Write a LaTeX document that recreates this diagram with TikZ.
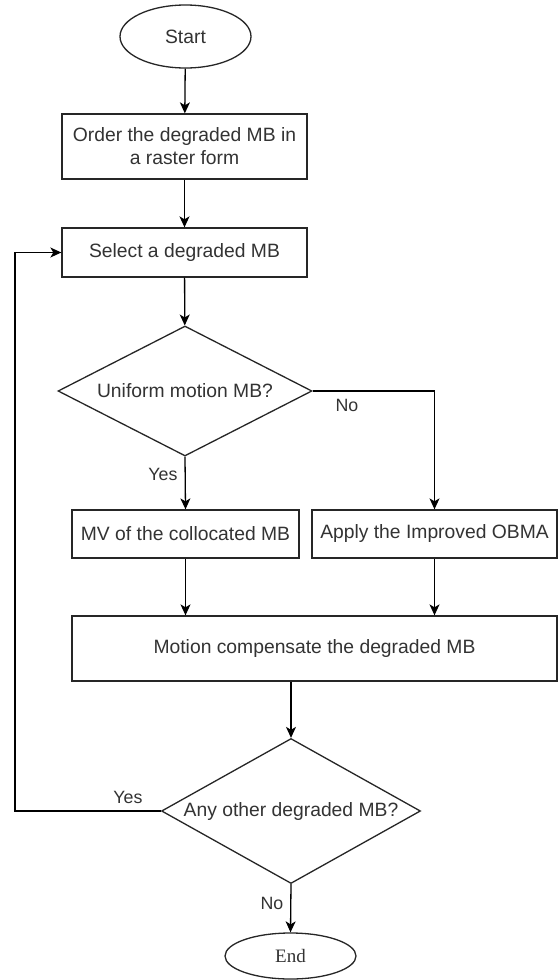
\documentclass[tikz,border=0pt]{standalone}
\usepackage{fontspec}
\setmainfont{Liberation Sans}
\newfontfamily\endserif{Liberation Serif}
\usetikzlibrary{shapes.geometric,arrows.meta}
\begin{document}
\begin{tikzpicture}[x=1pt,y=-1pt,
  every node/.style={text=black!80, font=\fontsize{19.3}{23}\selectfont},
  stepbox/.style={draw=black!85, line width=1.3pt, rectangle, inner sep=0pt, align=center},
  oval/.style={draw=black!85, line width=1.3pt, ellipse, inner sep=0pt},
  decide/.style={draw=black!85, line width=1.3pt, diamond, inner sep=0pt},
  arr/.style={draw=black, line width=1.3pt, -{Stealth[length=11pt,width=10pt,inset=3pt]}},
  lbl/.style={font=\fontsize{17.8}{20}\selectfont, inner sep=0pt}
]
\useasboundingbox (0,0) rectangle (558,980);
\fill[white] (0,0) rectangle (558,980);

\node[oval, minimum width=131pt, minimum height=63pt] (start) at (185.5,36.5) {Start};
\node[stepbox, minimum width=245pt, minimum height=65pt] (b1) at (184.5,146.5) {Order the degraded MB in\\a raster form};
\node[stepbox, minimum width=245pt, minimum height=49pt] (b2) at (184.5,252.5) {Select a degraded MB};
\node[decide, aspect=1.95, minimum width=254pt, minimum height=130pt] (d1) at (185,391) {Uniform motion MB?};
\node[stepbox, minimum width=227pt, minimum height=48pt] (bl) at (185.5,534) {MV of the collocated MB};
\node[stepbox, minimum width=245pt, minimum height=48pt] (br) at (434.5,534) {Apply the Improved OBMA};
\node[stepbox, minimum width=485pt, minimum height=65pt] (mc) at (314.5,648.5) {Motion compensate the degraded MB};
\node[decide, aspect=1.79, minimum width=259pt, minimum height=145pt] (d2) at (291,811) {Any other degraded MB?};
\node[oval, minimum width=131pt, minimum height=46pt, font=\endserif\fontsize{19}{22}\selectfont] (end) at (290.5,956) {End};

\coordinate (loop) at (15,811);

\draw[arr] (start) -- (b1);
\draw[arr] (b1) -- (b2);
\draw[arr] (b2) -- (d1);
\draw[arr] (d1.south) -- (bl.north);
\draw[arr] (d1.east) -| (br.north);
\draw[arr] (bl.south) -- (bl.south |- mc.north);
\draw[arr] (br.south) -- (br.south |- mc.north);
\draw[arr] (mc.south -| d2.north) -- (d2.north);
\draw[arr] (d2.west) -- (loop) |- (b2.west);
\draw[arr] (d2.south) -- (end.north);

\node[lbl] (no1) at (347,405) {No};
\node[lbl] (yes1) at (163,474) {Yes};
\node[lbl] (yes2) at (128,797) {Yes};
\node[lbl] (no2) at (272,903) {No};
\end{tikzpicture}
\end{document}
